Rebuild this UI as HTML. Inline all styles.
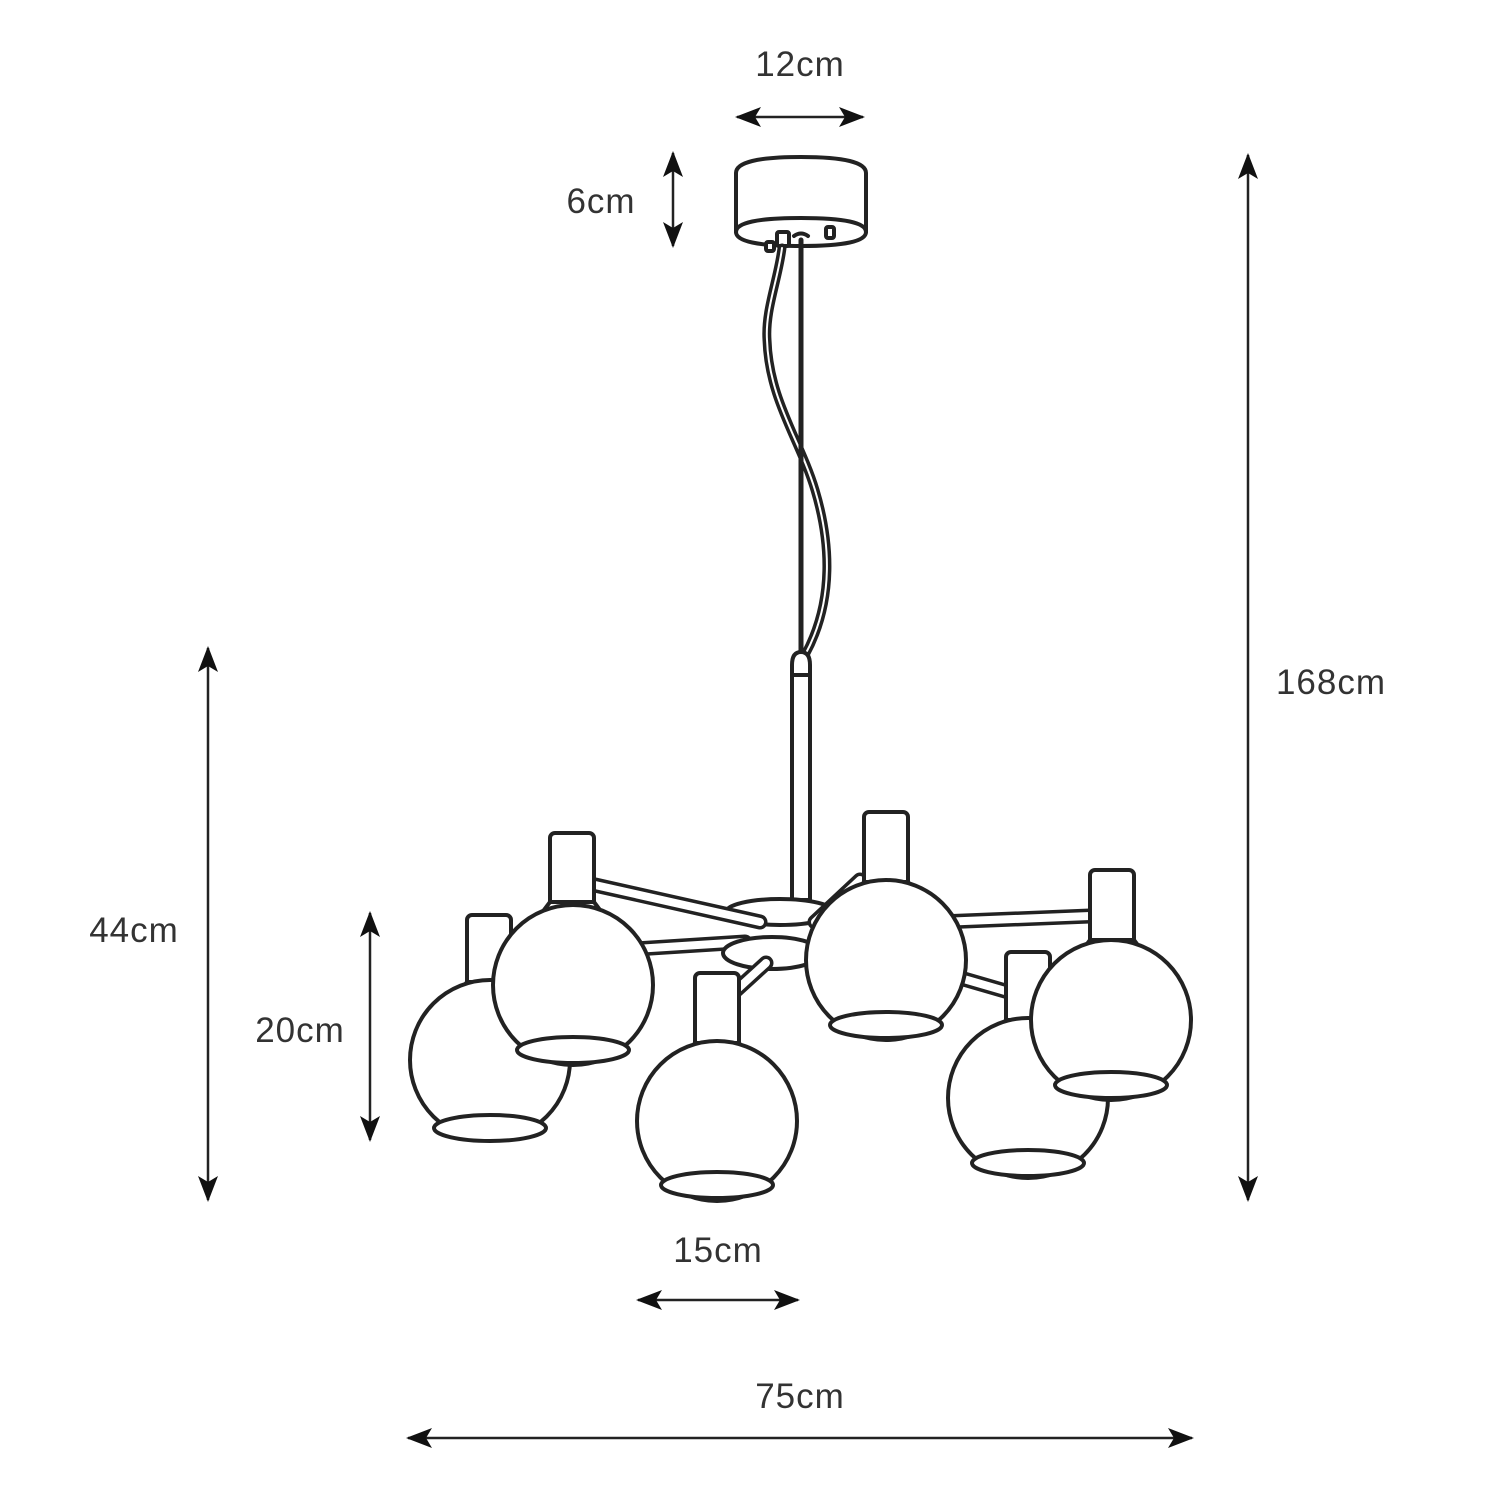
<!DOCTYPE html>
<html><head><meta charset="utf-8"><style>html,body{margin:0;padding:0;background:#fff}svg{display:block}</style></head>
<body>
<svg width="1500" height="1500" viewBox="0 0 1500 1500" xmlns="http://www.w3.org/2000/svg">
<defs>
<marker id="ah" viewBox="0 0 26 20" refX="24" refY="10" markerWidth="26" markerHeight="20" markerUnits="userSpaceOnUse" orient="auto-start-reverse">
<path d="M0,0 L26,10 L0,20 L6,10 Z" fill="#111"/>
</marker>
</defs>
<g font-family="Liberation Sans, sans-serif" font-size="35" letter-spacing="1" fill="#333" text-anchor="middle">
<text x="800" y="76">12cm</text>
<text x="601" y="213">6cm</text>
<text x="1331" y="694">168cm</text>
<text x="134" y="942">44cm</text>
<text x="300" y="1042">20cm</text>
<text x="718" y="1262">15cm</text>
<text x="800" y="1408">75cm</text>
</g>
<g stroke="#222" stroke-width="2.5" fill="none" marker-start="url(#ah)" marker-end="url(#ah)">
<line x1="737" y1="117" x2="863" y2="117"/>
<line x1="673" y1="153" x2="673" y2="246"/>
<line x1="1248" y1="155" x2="1248" y2="1200"/>
<line x1="208" y1="648" x2="208" y2="1200"/>
<line x1="370" y1="913" x2="370" y2="1140"/>
<line x1="638" y1="1300" x2="798" y2="1300"/>
<line x1="408" y1="1438" x2="1192" y2="1438"/>
</g>
<g stroke="#222" stroke-width="4" fill="#fff" stroke-linejoin="round" stroke-linecap="round">
<path d="M736,173 Q736,157 801,157 Q866,157 866,173 L866,232 Q866,246 801,246 Q736,246 736,232 Z"/>
<path d="M736,232 Q736,218 801,218 Q866,218 866,232" fill="none"/>
<rect x="826" y="227" width="8" height="11" rx="2"/>
<rect x="766" y="242" width="8" height="9" rx="2"/>
<rect x="777" y="232" width="12" height="14" rx="2"/>
<path d="M794,236 Q801,231 808,236" fill="none"/>
<path d="M782,248 C778,280 765,310 767,340 C769,400 800,440 815,490 C830,540 835,600 805,655" fill="none" stroke-width="9"/>
<path d="M782,248 C778,280 765,310 767,340 C769,400 800,440 815,490 C830,540 835,600 805,655" fill="none" stroke="#fff" stroke-width="2"/>
<line x1="801" y1="240" x2="801" y2="660" stroke-width="5"/>
<path d="M792,665 Q792,652 801,652 Q810,652 810,665 L810,900 L792,900 Z"/>
<line x1="792" y1="675" x2="810" y2="675"/>
<ellipse cx="780" cy="912" rx="54" ry="13"/>
</g>
<g fill="none" stroke-linecap="round">
<g stroke="#222" stroke-width="15">
<line x1="595" y1="885" x2="760" y2="922"/>
<line x1="620" y1="950" x2="745" y2="942"/>
<line x1="815" y1="922" x2="860" y2="880"/>
<line x1="940" y1="922" x2="1090" y2="916"/>
</g>
<g stroke="#fff" stroke-width="8">
<line x1="595" y1="885" x2="760" y2="922"/>
<line x1="620" y1="950" x2="745" y2="942"/>
<line x1="815" y1="922" x2="860" y2="880"/>
<line x1="940" y1="922" x2="1090" y2="916"/>
</g>
</g>
<g stroke="#222" stroke-width="4" fill="#fff">
<ellipse cx="772" cy="953" rx="49" ry="16"/>
</g>
<g fill="none" stroke-linecap="round">
<g stroke="#222" stroke-width="15">
<line x1="720" y1="1005" x2="766" y2="963"/>
<line x1="950" y1="975" x2="1012" y2="993"/>
</g>
<g stroke="#fff" stroke-width="8">
<line x1="720" y1="1005" x2="766" y2="963"/>
<line x1="950" y1="975" x2="1012" y2="993"/>
</g>
</g>
<g stroke="#222" stroke-width="4" fill="#fff" stroke-linejoin="round">
<g>
<rect x="467" y="915" width="44" height="80" rx="5"/>
<polygon points="467,982 511,982 520,994 458,994"/>
<circle cx="490" cy="1060" r="80"/>
<ellipse cx="490" cy="1128" rx="56" ry="13"/>
</g>
<g>
<rect x="550" y="833" width="44" height="82" rx="5"/>
<polygon points="550,902 594,902 603,914 541,914"/>
<circle cx="573" cy="985" r="80"/>
<ellipse cx="573" cy="1050" rx="56" ry="13"/>
</g>
<g>
<rect x="695" y="973" width="44" height="82" rx="5"/>
<polygon points="695,1043 739,1043 748,1055 686,1055"/>
<circle cx="717" cy="1121" r="80"/>
<ellipse cx="717" cy="1185" rx="56" ry="13"/>
</g>
<g>
<rect x="864" y="812" width="44" height="82" rx="5"/>
<polygon points="864,882 908,882 917,894 855,894"/>
<circle cx="886" cy="960" r="80"/>
<ellipse cx="886" cy="1025" rx="56" ry="13"/>
</g>
<g>
<rect x="1006" y="952" width="44" height="82" rx="5"/>
<polygon points="1006,1020 1050,1020 1059,1032 997,1032"/>
<circle cx="1028" cy="1098" r="80"/>
<ellipse cx="1028" cy="1163" rx="56" ry="13"/>
</g>
<g>
<rect x="1090" y="870" width="44" height="82" rx="5"/>
<polygon points="1090,940 1134,940 1143,952 1081,952"/>
<circle cx="1111" cy="1020" r="80"/>
<ellipse cx="1111" cy="1085" rx="56" ry="13"/>
</g>
</g>
</svg>
</body></html>
